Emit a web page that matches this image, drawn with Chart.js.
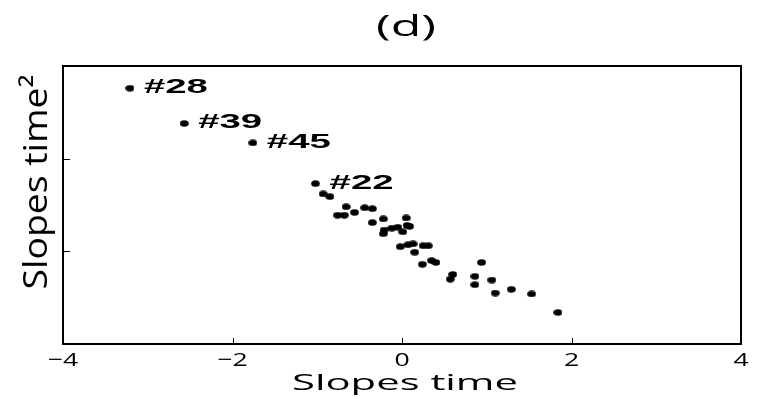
<!DOCTYPE html>
<html>
<head>
<meta charset="utf-8">
<script src="https://cdn.jsdelivr.net/npm/chart.js@4/dist/chart.umd.min.js"></script>
<style>
  html, body { margin: 0; padding: 0; background: #ffffff; }
  #wrap { width: 765px; height: 399px; position: relative; }
</style>
</head>
<body>
<div id="wrap"><canvas id="c" width="765" height="399"></canvas></div>
<script>
// ---- Data ----
const slopesTime = [-3.21, -2.57, -1.76, -1.02, -0.93, -0.85, -0.76, -0.68, -0.66, -0.56,
  -0.44, -0.35, -0.35, -0.22, -0.21, -0.22, -0.12, -0.05, 0.05, 0.06,
  0.01, 0.09, -0.02, 0.07, 0.13, 0.15, 0.25, 0.31, 0.24, 0.35,
  0.40, 0.60, 0.57, 0.94, 0.86, 0.86, 1.06, 1.10, 1.29, 1.53, 1.84];
const slopesTime2 = [1.26, 0.88, 0.67, 0.23, 0.12, 0.09, -0.11, -0.11, -0.02, -0.08,
  -0.03, -0.04, -0.19, -0.15, -0.27, -0.31, -0.25, -0.24, -0.14, -0.22,
  -0.29, -0.23, -0.45, -0.43, -0.42, -0.51, -0.44, -0.44, -0.64, -0.60,
  -0.62, -0.75, -0.80, -0.62, -0.77, -0.86, -0.81, -0.95, -0.91, -0.96, -1.16];
const labelIndex = [0, 1, 2, 3];
const labelText = ['#28', '#39', '#45', '#22'];
const xTickValues = [-4, -2, 0, 2, 4];
const yTickValues = [-0.5, 0.5];
const xRange = [-4, 4];
const yRange = [-1.5, 1.5];
const chartTitle = '(d)';
const xTitle = 'Slopes time';
const yTitle = 'Slopes time\u00B2';

const points = slopesTime.map((x, i) => ({ x: x, y: slopesTime2[i] }));

// ellipse-shaped marker
const marker = document.createElement('canvas');
marker.width = 9; marker.height = 7;
(function () {
  const m = marker.getContext('2d');
  m.fillStyle = '#000';
  m.beginPath();
  m.ellipse(4.5, 3.5, 4.3, 3.2, 0, 0, Math.PI * 2);
  m.fill();
})();

const TXT = '400 {s}px "Open Sans", "Liberation Sans", Arial, sans-serif';
const LAB = 'bold {s}px "Liberation Sans", Arial, Helvetica, sans-serif';
function f(tpl, s) { return tpl.replace('{s}', s); }

function stretchText(ctx, text, x, y, font, opts) {
  ctx.save();
  ctx.font = font;
  ctx.fillStyle = '#000';
  ctx.textBaseline = 'alphabetic';
  const w = ctx.measureText(text).width;
  let sx = opts.sx || 1;
  if (opts.fitWidth) sx = opts.fitWidth / w;
  ctx.translate(x, y);
  if (opts.rotate) ctx.rotate(opts.rotate);
  ctx.scale(sx, 1);
  ctx.textAlign = opts.align || 'center';
  ctx.fillText(text, 0, 0);
  ctx.restore();
}

const decor = {
  id: 'decor',
  afterDatasetsDraw(chart) {
    const ctx = chart.ctx;
    const a = chart.chartArea;
    const xs = chart.scales.x, ys = chart.scales.y;
    ctx.save();
    // frame
    ctx.strokeStyle = '#000';
    ctx.lineWidth = 2;
    ctx.strokeRect(a.left, a.top, a.right - a.left, a.bottom - a.top);
    // inward tick marks
    ctx.lineWidth = 1;
    ctx.beginPath();
    xTickValues.forEach(v => {
      const px = Math.round(xs.getPixelForValue(v)) + 0.5;
      ctx.moveTo(px, a.bottom);
      ctx.lineTo(px, a.bottom - 6);
    });
    yTickValues.forEach(v => {
      const py = Math.round(ys.getPixelForValue(v)) + 0.5;
      ctx.moveTo(a.left, py);
      ctx.lineTo(a.left + 7, py);
    });
    ctx.stroke();
    ctx.restore();

    // tick labels on x
    xTickValues.forEach(v => {
      const px = xs.getPixelForValue(v);
      const t = v < 0 ? '\u2212' + Math.abs(v) : String(v);
      stretchText(ctx, t, px, a.bottom + 22, f(TXT, 19), { sx: 1.4 });
    });

    // point labels
    labelIndex.forEach((idx, k) => {
      const p = points[idx];
      const px = xs.getPixelForValue(p.x);
      const py = ys.getPixelForValue(p.y);
      stretchText(ctx, labelText[k], px + 14, py + 5, f(LAB, 21), { fitWidth: 64, align: 'left' });
    });

    // titles
    stretchText(ctx, chartTitle, (a.left + a.right) / 2 + 4, 36, f(TXT, 30), { fitWidth: 60 });
    stretchText(ctx, xTitle, (a.left + a.right) / 2 + 3, 390, f(TXT, 21), { fitWidth: 226 });
    stretchText(ctx, yTitle, 47, (a.top + a.bottom) / 2 - 23, f(TXT, 33), { fitWidth: 215, rotate: -Math.PI / 2 });
  }
};

new Chart(document.getElementById('c'), {
  type: 'scatter',
  data: {
    datasets: [{
      data: points,
      pointStyle: marker,
      pointRadius: 4,
      pointHoverRadius: 4,
      backgroundColor: '#000',
      borderColor: '#000',
      clip: false
    }]
  },
  options: {
    responsive: false,
    animation: false,
    events: [],
    layout: { padding: { left: 63, right: 24, top: 66, bottom: 55 } },
    plugins: { legend: { display: false }, tooltip: { enabled: false }, title: { display: false } },
    scales: {
      x: {
        type: 'linear', min: xRange[0], max: xRange[1],
        grid: { display: false, drawTicks: false },
        border: { display: false },
        ticks: { display: false }
      },
      y: {
        type: 'linear', min: yRange[0], max: yRange[1],
        grid: { display: false, drawTicks: false },
        border: { display: false },
        ticks: { display: false }
      }
    }
  },
  plugins: [decor]
});
</script>
</body>
</html>
